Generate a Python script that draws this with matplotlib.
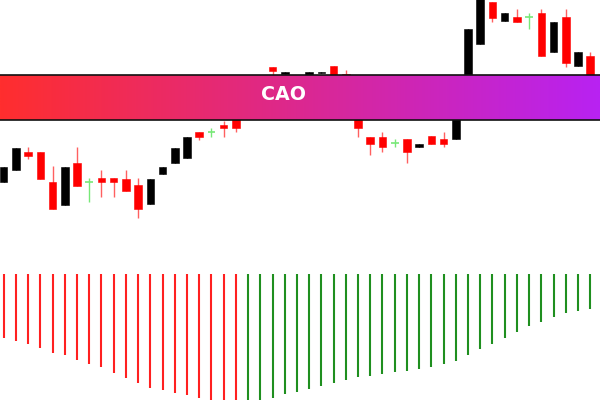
import numpy as np
import matplotlib
matplotlib.use('agg')
import matplotlib.pyplot as plt
from matplotlib.patches import Rectangle

# candle data (price units), one entry per bar
opens = [218.3, 230.0, 248.3, 248.3, 218.3, 195.0, 236.7, 218.3, 221.7, 221.7,
         221.3, 214.7, 195.7, 226.0, 236.7, 241.7, 268.3, 267.7, 275.0, 290.0,
         285.0, 305.0, 333.3, 326.3, 322.0, 312.0, 326.7, 334.0, 326.0, 295.0,
         263.3, 263.3, 256.7, 260.7, 252.7, 264.0, 260.7, 261.0, 290.0, 356.0,
         398.3, 379.0, 382.7, 382.7, 387.3, 348.3, 382.7, 334.0, 344.0]
highs = [233.3, 252.3, 253.3, 248.3, 234.0, 233.3, 253.3, 221.7, 230.0, 221.7,
         230.0, 221.7, 220.7, 233.3, 252.3, 262.7, 268.3, 272.3, 279.3, 292.0,
         310.0, 325.5, 333.3, 328.3, 324.0, 328.3, 328.3, 334.0, 330.0, 298.0,
         263.3, 268.3, 261.0, 260.7, 256.0, 264.0, 268.3, 292.0, 370.7, 405.0,
         398.3, 386.7, 390.7, 387.3, 390.7, 378.3, 390.7, 348.3, 348.3]
lows = [218.3, 230.0, 240.7, 220.7, 190.7, 195.0, 214.0, 198.3, 202.7, 202.7,
        209.3, 182.3, 195.7, 226.0, 236.7, 241.7, 260.0, 262.7, 262.7, 268.3,
        282.0, 300.0, 318.0, 326.3, 305.0, 308.0, 326.7, 310.0, 305.0, 263.3,
        245.0, 247.7, 252.7, 236.7, 252.7, 256.0, 252.7, 261.0, 290.0, 356.0,
        378.3, 379.0, 378.3, 370.7, 344.0, 348.3, 333.3, 334.0, 315.0]
closes = [233.3, 252.3, 244.3, 220.7, 190.7, 233.3, 214.0, 218.3, 217.7, 217.7,
          209.3, 190.7, 220.7, 233.3, 252.3, 262.7, 263.3, 267.7, 271.7, 271.7,
          310.0, 325.5, 329.0, 328.3, 310.0, 328.3, 328.3, 315.0, 312.0, 271.7,
          256.0, 252.7, 256.7, 247.7, 256.0, 256.0, 256.0, 292.0, 370.7, 405.0,
          381.7, 386.7, 378.3, 382.7, 344.0, 378.3, 336.7, 348.3, 320.0]

# oscillator histogram (falling part then rising part)
osc_falling = [-64.3, -66.7, -70.3, -74.3, -78.7, -81.0, -85.7, -89.7, -93.3, -98.7,
               -104.0, -109.3, -114.0, -116.3, -118.7, -120.7, -123.7, -126.0, -127.5, -128.5]
osc_rising = [-127.5, -125.5, -123.7, -120.0, -117.7, -114.7, -112.0, -108.7, -105.7, -103.3,
              -101.7, -100.3, -98.0, -97.0, -95.3, -93.3, -90.3, -87.0, -80.7, -75.0,
              -69.7, -63.7, -58.0, -52.0, -48.0, -42.7, -39.3, -37.0, -34.7]

title = "CAO"

n = len(opens)
idx = np.arange(n)
xlim = (-0.303, 48.8)

fig = plt.figure(figsize=(6, 4), dpi=100)

# price panel spans the whole figure so banner can sit on top of it
ax = fig.add_axes([0, 0, 1, 1])
ax.set_xlim(*xlim)
ax.set_ylim(0, 400)
ax.axis('off')

w = 0.62
for i in idx:
    o, h, l, c = opens[i], highs[i], lows[i], closes[i]
    if c > o:
        col, wick = '#000000', '#000000'
    elif c < o:
        col, wick = '#ff0000', '#ff6060'
    else:
        col, wick = '#77e877', '#77e877'
    ax.vlines(i, l, h, color=wick, lw=1.0, zorder=2)
    if c == o:
        ax.hlines(c, i - w/2, i + w/2, color=col, lw=1.2, zorder=3)
    else:
        ax.add_patch(Rectangle((i - w/2, min(o, c)), w, abs(c - o),
                               facecolor=col, edgecolor=col, lw=0.4, zorder=3))

# gradient banner
y0, y1 = 400 - 120, 400 - 75.3
c_left = np.array([255, 46, 46]) / 255
c_right = np.array([184, 34, 242]) / 255
t = np.linspace(0, 1, 256)
grad = (c_left[None, :] * (1 - t[:, None]) + c_right[None, :] * t[:, None])[None, :, :]
ax.imshow(grad, extent=[xlim[0], xlim[1], y0, y1], aspect='auto', zorder=10,
          interpolation='bilinear')
ax.hlines([y0, y1], xlim[0], xlim[1], color='#111111', lw=1.2, zorder=11)
ax.text(22.9, 400 - 94.5, title, color='white', fontsize=13.7, fontweight='bold',
        ha='center', va='center', zorder=12, family='DejaVu Sans')
ax.set_xlim(*xlim)
ax.set_ylim(0, 400)

# histogram panel
axh = fig.add_axes([0, 0, 1, 126/400])
axh.set_xlim(*xlim)
axh.set_ylim(-126, 0)
axh.axis('off')
nf = len(osc_falling)
axh.vlines(np.arange(nf), osc_falling, 0, color='#ff2020', lw=1.5)
axh.vlines(np.arange(nf, nf + len(osc_rising)), osc_rising, 0, color='#1f8f1f', lw=1.5)

fig.savefig('out.png', dpi=100)
